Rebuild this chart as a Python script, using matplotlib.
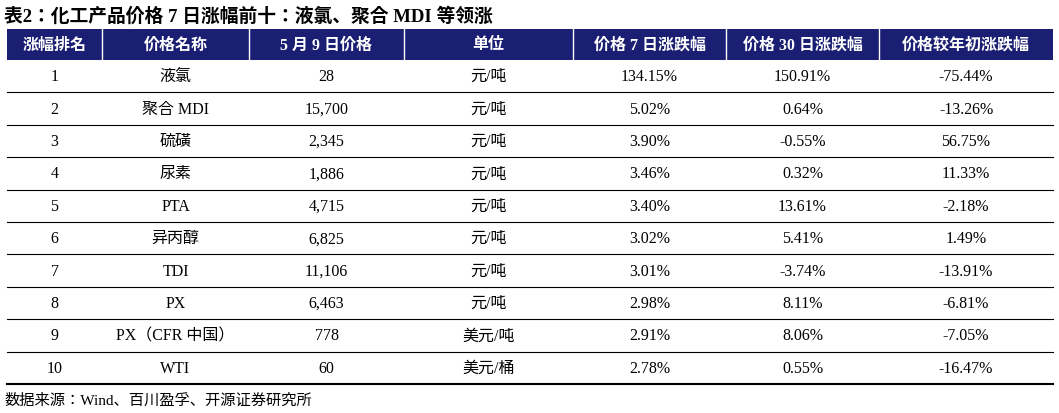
import matplotlib
matplotlib.use('Agg')
import matplotlib.pyplot as plt
from matplotlib import font_manager

# pick whatever CJK face matplotlib actually registered
cjk = [f.name for f in font_manager.fontManager.ttflist if 'CJK' in f.name]
cjk_name = 'Noto Sans CJK SC' if 'Noto Sans CJK SC' in cjk else (cjk[0] if cjk else 'DejaVu Sans')
plt.rcParams['font.family'] = ['Liberation Serif', cjk_name]

title = '表2：化工产品价格 7 日涨幅前十：液氯、聚合 MDI 等领涨'
source = '数据来源：Wind、百川盈孚、开源证券研究所'
headers = ['涨幅排名', '价格名称', '5 月 9 日价格', '单位', '价格 7 日涨跌幅', '价格 30 日涨跌幅', '价格较年初涨跌幅']

ranks = ['1', '2', '3', '4', '5', '6', '7', '8', '9', '10']
names = ['液氯', '聚合 MDI', '硫磺', '尿素', 'PTA', '异丙醇', 'TDI', 'PX', 'PX（CFR 中国）', 'WTI']
prices = ['28', '15,700', '2,345', '1,886', '4,715', '6,825', '11,106', '6,463', '778', '60']
units = ['元/吨'] * 8 + ['美元/吨', '美元/桶']
chg7 = ['134.15%', '5.02%', '3.90%', '3.46%', '3.40%', '3.02%', '3.01%', '2.98%', '2.91%', '2.78%']
chg30 = ['150.91%', '0.64%', '-0.55%', '0.32%', '13.61%', '5.41%', '-3.74%', '8.11%', '8.06%', '0.55%']
chg_ytd = ['-75.44%', '-13.26%', '56.75%', '11.33%', '-2.18%', '1.49%', '-13.91%', '-6.81%', '-7.05%', '-16.47%']

W, H = 1059, 414
edges = [7, 102, 249, 404, 573, 726, 879, 1053]
head_top, head_bot = 30, 61
row_h = 32.4
navy = '#1b1f73'

fig = plt.figure(figsize=(W / 100, H / 100), dpi=100)
ax = fig.add_axes([0, 0, 1, 1])
ax.set_xlim(0, W)
ax.set_ylim(H, 0)
ax.axis('off')

ax.text(4, 16, title, fontsize=13.5, fontweight='bold', va='center', ha='left')

ax.add_patch(plt.Rectangle((edges[0], head_top), edges[-1] - edges[0], head_bot - head_top,
                           color=navy, lw=0))
for x in edges[1:-1]:
    ax.plot([x, x], [head_top, head_bot], color='white', lw=1)
for i, h in enumerate(headers):
    cx = (edges[i] + edges[i + 1]) / 2
    ax.text(cx, (head_top + head_bot) / 2, h, color='white', fontsize=11.5,
            fontweight='bold', ha='center', va='center')

cols = [ranks, names, prices, units, chg7, chg30, chg_ytd]
for r in range(len(ranks)):
    y0 = head_bot + r * row_h
    for i, col in enumerate(cols):
        cx = (edges[i] + edges[i + 1]) / 2
        ax.text(cx, y0 + row_h / 2, col[r], fontsize=11.5, ha='center', va='center')
    lw = 1.5 if r == len(ranks) - 1 else 0.8
    ax.plot([edges[0], edges[-1]], [y0 + row_h, y0 + row_h], color='black', lw=lw)

ax.text(4, 401, source, fontsize=11, ha='left', va='center')

fig.savefig('out.png', dpi=100)
